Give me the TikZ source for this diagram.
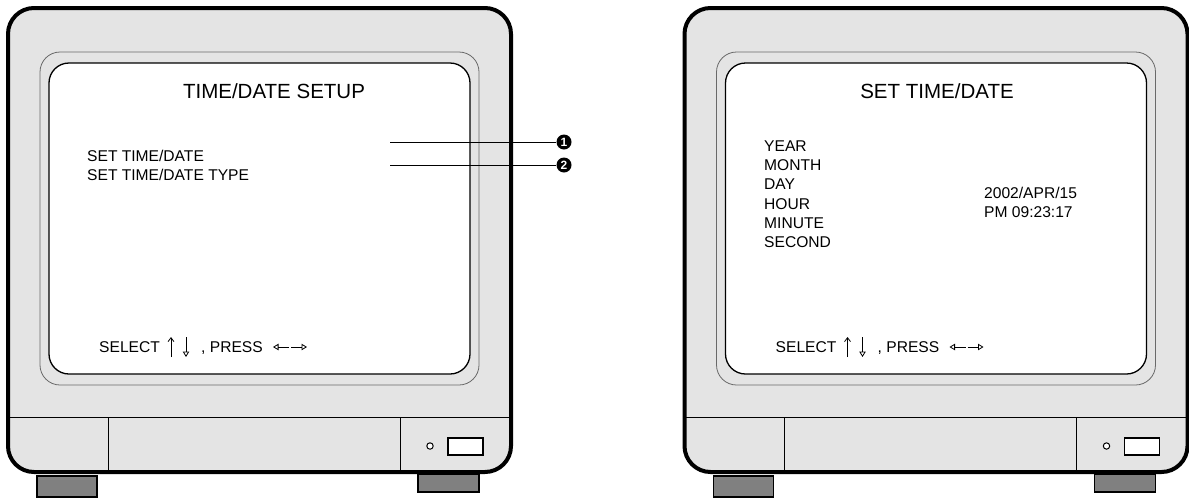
\documentclass[tikz,border=0pt]{standalone}
\usepackage{fontspec}
\setmainfont{Liberation Sans}
\usetikzlibrary{arrows.meta,positioning}

\definecolor{bodygray}{RGB}{228,228,228}
\definecolor{footgray}{RGB}{128,128,128}
\definecolor{bezelgray}{RGB}{105,105,105}

\tikzset{
  menutext/.style={anchor=west, inner sep=0pt, text height=12pt, text depth=1pt,
    font=\fontsize{15.6}{18}\selectfont},
  titletext/.style={inner sep=0pt, text height=15pt, text depth=0pt,
    font=\fontsize{20.5}{24}\selectfont},
  callout/.style={circle, fill=black, text=white, inner sep=0pt, minimum size=15pt,
    font=\bfseries\fontsize{12}{13}\selectfont},
  keyarrow/.style={line width=0.8pt, -{Triangle[open,length=5.5pt,width=6.5pt]}},
  monitor/.pic={
    % feet
    \draw[fill=footgray, line width=1.4pt] (37,476) rectangle (97,497);
    \draw[fill=footgray, line width=1.4pt] (418,474) rectangle (479,492);
    % cabinet
    \draw[line width=4pt, fill=bodygray, rounded corners=26pt] (8,8) rectangle (511,472);
    \draw[bezelgray, line width=0.8pt, rounded corners=20pt] (40,52) rectangle (479,385);
    \draw[line width=1.3pt, fill=white, rounded corners=20pt] (49,63) rectangle (470,374);
    % front panel
    \draw[line width=1pt] (8,417) -- (511,417);
    \draw[line width=1pt] (108,417) -- (108,472);
    \draw[line width=1pt] (400,417) -- (400,472);
    \draw[line width=1pt, fill=white] (430,446) circle[radius=3.2pt];
    \draw[line width=1.2pt, fill=white] (448,438) rectangle (483,455);
    % key hints
    \node[menutext] (-sel) at (99,347) {SELECT};
    \draw[line width=0.8pt, -{Straight Barb[length=4pt,width=6pt]}] (171,357) -- (171,337);
    \draw[keyarrow] (186,337) -- (186,357);
    \node[menutext] (-press) at (201,347) {, PRESS};
    \draw[keyarrow] (289,347) -- (273,347);
    \draw[keyarrow] (291,347) -- (307,347);
  }
}

\begin{document}
\begin{tikzpicture}[x=1pt, y=-1pt]
  \useasboundingbox (0,0) rectangle (1189,499);

  \pic (lmon) at (0,0) {monitor};
  \pic (rmon) at (676.5,0) {monitor};

  % left screen
  \node[titletext] (ltitle) at (274,91) {TIME/DATE SETUP};
  \node[menutext] (lset) at (87,156) {SET TIME/DATE};
  \node[menutext] (ltype) at (87,175) {SET TIME/DATE TYPE};

  \coordinate (l1) at (390,142);
  \coordinate (l2) at (390,165);
  \node[callout] (n1) at (564,142) {1};
  \node[callout] (n2) at (564,165) {2};
  \draw[line width=1pt] (l1) -- (n1);
  \draw[line width=1pt] (l2) -- (n2);

  % right screen
  \node[titletext] (rtitle) at (937,91) {SET TIME/DATE};
  \foreach \lbl [count=\i from 0] in {YEAR,MONTH,DAY,HOUR,MINUTE,SECOND}
    \node[menutext] (f-\i) at (764,146+19.2*\i) {\lbl};
  \node[menutext] (rdate) at (984,193) {2002/APR/15};
  \node[menutext] (rtime) at (984,212) {PM 09:23:17};
\end{tikzpicture}
\end{document}
